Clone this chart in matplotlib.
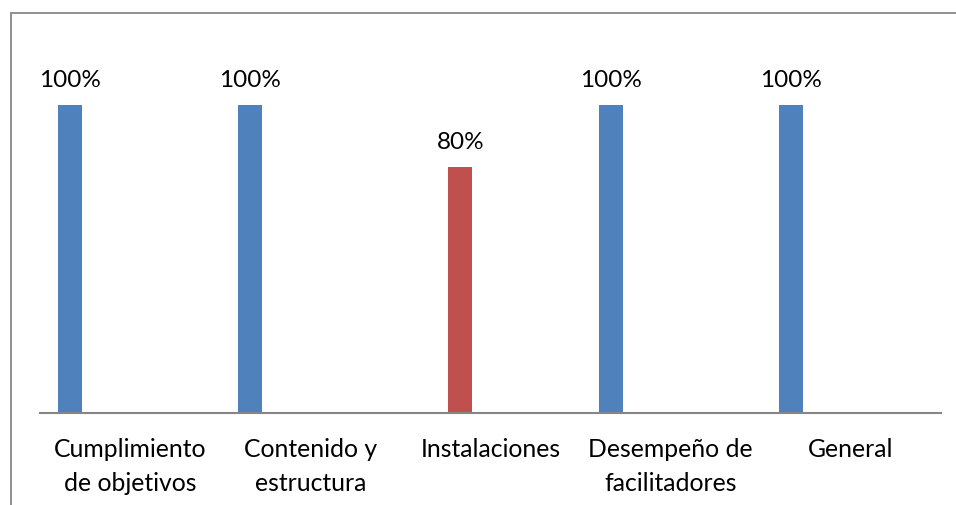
import matplotlib.pyplot as plt
from matplotlib.patches import Rectangle

# chart data
categories = ["Cumplimiento\nde objetivos", "Contenido y\nestructura", "Instalaciones",
              "Desempeño de\nfacilitadores", "General"]
values = [1.0, 1.0, 0.8, 1.0, 1.0]
labels = ["100%", "100%", "80%", "100%", "100%"]
colors = ["#4F81BD", "#4F81BD", "#C0504D", "#4F81BD", "#4F81BD"]
# position of each bar inside its category slot (clustered layout)
offsets = [-1 / 3, -1 / 3, -1 / 6, -1 / 3, -1 / 3]

plt.rcParams['font.family'] = ['Lato', 'DejaVu Sans']

fig = plt.figure(figsize=(9.56, 5.05), dpi=100)

# outer chart border (only its top and left edges fall inside the image)
fig.patches.append(Rectangle((11 / 956, -0.1), 1.2, 1 - 13 / 505 + 0.1,
                             transform=fig.transFigure, fill=False,
                             edgecolor="#878787", linewidth=1.3))

ax = fig.add_axes([40 / 956, 1 - 413 / 505, 901 / 956, 369.6 / 505])

xs = [i + off for i, off in enumerate(offsets)]
bars = ax.bar(xs, values, width=0.133, color=colors)

for bar, lab in zip(bars, labels):
    ax.annotate(lab, (bar.get_x() + bar.get_width() / 2, bar.get_height()),
                xytext=(0, 10), textcoords="offset points",
                ha="center", va="bottom", fontsize=17.5)

ax.set_xlim(-0.5, 4.5)
ax.set_ylim(0, 1.2)
ax.set_xticks(range(len(categories)))
ax.set_xticklabels(categories, fontsize=17.8, linespacing=1.6)
ax.tick_params(axis="x", length=0, pad=18)
ax.set_yticks([])

for side in ["top", "right", "left"]:
    ax.spines[side].set_visible(False)
ax.spines["bottom"].set_color("#868686")
ax.spines["bottom"].set_linewidth(1.5)

fig.savefig("out.png", dpi=100)
